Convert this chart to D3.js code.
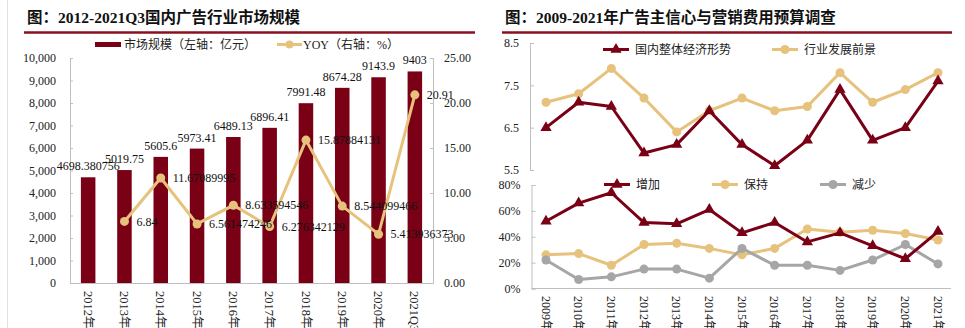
<!DOCTYPE html>
<html>
<head>
<meta charset="utf-8">
<script src="https://cdn.jsdelivr.net/npm/d3@7"></script>
<style>
  body { margin: 0; background: #fff; }
  svg { display: block; font-family: "Liberation Serif", "Noto Sans CJK SC", serif; }
  .axis path, .axis line { stroke: #bfbfbf; }
  .axis text { font-size: 12px; fill: #222; font-family: "Liberation Serif", serif; }
</style>
</head>
<body>
<div id="chart"></div>
<script>
// market size (left) data
var years = ["2012年", "2013年", "2014年", "2015年", "2016年", "2017年", "2018年", "2019年", "2020年", "2021Q3"];
var marketSize = [4698.380756, 5019.75, 5605.6, 5973.41, 6489.13, 6896.41, 7991.48, 8674.28, 9143.9, 9403];
var yoy = [null, 6.84, 11.67089995, 6.561474246, 8.633594546, 6.276342129, 15.87884131, 8.544099466, 5.413936373, 20.91];
var sizeTicks = [0, 1000, 2000, 3000, 4000, 5000, 6000, 7000, 8000, 9000, 10000];
var yoyTicks = [0, 5, 10, 15, 20, 25];

// advertiser survey (right) data
var surveyYears = ["2009年", "2010年", "2011年", "2012年", "2013年", "2014年", "2015年", "2016年", "2017年", "2018年", "2019年", "2020年", "2021年"];
var economy = [6.5, 7.1, 7.0, 5.9, 6.1, 6.9, 6.1, 5.6, 6.2, 7.4, 6.2, 6.5, 7.6];
var outlook = [7.1, 7.3, 7.9, 7.2, 6.4, 6.9, 7.2, 6.9, 7.0, 7.8, 7.1, 7.4, 7.8];
var increase = [52, 66, 74, 51, 50, 61, 43, 51, 36, 43, 33, 23, 44];
var keep = [26, 27, 18, 34, 35, 31, 26, 31, 46, 43.5, 45, 42.5, 37.5];
var decrease = [22, 7, 9, 15, 15, 8, 31, 18, 18, 14, 22, 34, 19];
var confTicks = [5.5, 6.5, 7.5, 8.5];
var pctTicks = [0, 20, 40, 60, 80];

var RED = "#7a0016", TAN = "#e6c27c", GRAY = "#a6a6a6";

var svg = d3.select("#chart").append("svg")
  .attr("width", 965)
  .attr("height", 328);

// page border
svg.append("line").attr("x1", 7.5).attr("x2", 7.5).attr("y1", 0).attr("y2", 328)
  .attr("stroke", "#e2e2e2");

function title(x, x2, text) {
  svg.append("text")
    .attr("x", x).attr("y", 23)
    .attr("font-size", 15.5).attr("font-weight", "bold").attr("fill", "#111")
    .text(text);
  svg.append("line")
    .attr("x1", x - 3).attr("x2", x2).attr("y1", 32.5).attr("y2", 32.5)
    .attr("stroke", "#8a1020").attr("stroke-width", 2.5);
}

title(27, 475, "图：2012-2021Q3国内广告行业市场规模");
title(505, 952, "图：2009-2021年广告主信心与营销费用预算调查");

// ---------- left chart ----------
var left = svg.append("g");

var x = d3.scaleBand().domain(years).range([70, 433]).paddingInner(0.6).paddingOuter(0.3);
var ySize = d3.scaleLinear().domain([0, 10000]).range([283, 58]);
var yYoy = d3.scaleLinear().domain([0, 25]).range([283, 58]);

left.append("g").attr("class", "axis")
  .attr("transform", "translate(70,0)")
  .call(d3.axisLeft(ySize).tickValues(sizeTicks).tickSize(-3).tickPadding(14).tickFormat(d3.format(",")));

left.append("g").attr("class", "axis")
  .attr("transform", "translate(433,0)")
  .call(d3.axisRight(yYoy).tickValues(yoyTicks).tickSize(-3).tickPadding(11).tickFormat(d3.format(".2f")));

left.append("g").attr("class", "axis")
  .attr("transform", "translate(0,283)")
  .call(d3.axisBottom(x).tickSize(0).tickFormat(""));

left.selectAll("rect.bar")
  .data(marketSize)
  .enter().append("rect")
  .attr("class", "bar")
  .attr("x", (d, i) => x(years[i]))
  .attr("y", d => ySize(d))
  .attr("width", x.bandwidth())
  .attr("height", d => ySize(0) - ySize(d))
  .attr("fill", RED);

left.selectAll("text.barLabel")
  .data(marketSize)
  .enter().append("text")
  .attr("class", "barLabel")
  .attr("x", (d, i) => x(years[i]) + x.bandwidth() / 2)
  .attr("y", d => ySize(d) - 7)
  .attr("text-anchor", "middle")
  .attr("font-size", 12)
  .attr("fill", "#111")
  .text(d => d);

var yoyPts = yoy.map((v, i) => ({ v: v, cx: x(years[i]) + x.bandwidth() / 2 })).filter(d => d.v != null);

left.append("path")
  .datum(yoyPts)
  .attr("fill", "none")
  .attr("stroke", TAN)
  .attr("stroke-width", 3)
  .attr("d", d3.line().x(d => d.cx).y(d => yYoy(d.v)));

left.selectAll("circle.yoy")
  .data(yoyPts)
  .enter().append("circle")
  .attr("class", "yoy")
  .attr("cx", d => d.cx)
  .attr("cy", d => yYoy(d.v))
  .attr("r", 4.5)
  .attr("fill", TAN);

left.selectAll("text.yoyLabel")
  .data(yoyPts)
  .enter().append("text")
  .attr("class", "yoyLabel")
  .attr("x", d => d.cx + 12)
  .attr("y", d => yYoy(d.v))
  .attr("dy", "0.35em")
  .attr("font-size", 12)
  .attr("fill", "#111")
  .text(d => d.v);

// rotated year labels
left.selectAll("text.year")
  .data(years)
  .enter().append("text")
  .attr("class", "year")
  .attr("transform", d => `translate(${x(d) + x.bandwidth() / 2},291) rotate(90)`)
  .attr("dy", "0.35em")
  .attr("font-size", 12.5)
  .attr("fill", "#222")
  .text(d => d);

// legend
left.append("rect").attr("x", 95).attr("y", 42).attr("width", 26).attr("height", 5).attr("fill", RED);
left.append("text").attr("x", 124).attr("y", 49).attr("font-size", 12).attr("fill", "#222")
  .text("市场规模（左轴：亿元）");
left.append("line").attr("x1", 277).attr("x2", 302).attr("y1", 44.5).attr("y2", 44.5)
  .attr("stroke", TAN).attr("stroke-width", 3);
left.append("circle").attr("cx", 289.5).attr("cy", 44.5).attr("r", 4).attr("fill", TAN);
left.append("text").attr("x", 303).attr("y", 49).attr("font-size", 12).attr("fill", "#222")
  .text("YOY（右轴：%）");

// ---------- right chart ----------
var right = svg.append("g");

var xs = d3.scalePoint().domain(surveyYears).range([546, 938]);
var yConf = d3.scaleLinear().domain([5.5, 8.5]).range([170, 43]);
var yPct = d3.scaleLinear().domain([0, 80]).range([288.5, 185]);

right.append("g").attr("class", "axis")
  .attr("transform", "translate(530,0)")
  .call(d3.axisLeft(yConf).tickValues(confTicks).tickSize(-4).tickPadding(11).tickFormat(d3.format(".1f")));

right.append("g").attr("class", "axis")
  .attr("transform", "translate(531.5,0)")
  .call(d3.axisLeft(yPct).tickValues(pctTicks).tickSize(-4).tickPadding(11).tickFormat(d => d + "%"));

right.append("line")
  .attr("x1", 531.5).attr("x2", 951).attr("y1", yPct(0)).attr("y2", yPct(0))
  .attr("stroke", "#bfbfbf");

var triangle = d3.symbol().type(d3.symbolTriangle).size(55);

function series(values, yScale, color, marker) {
  right.append("path")
    .datum(values)
    .attr("fill", "none")
    .attr("stroke", color)
    .attr("stroke-width", 3)
    .attr("stroke-linejoin", "round")
    .attr("d", d3.line().x((d, i) => xs(surveyYears[i])).y(d => yScale(d)));

  var pts = right.append("g").selectAll("g")
    .data(values)
    .enter();
  if (marker == "triangle") {
    pts.append("path")
      .attr("d", triangle)
      .attr("transform", (d, i) => `translate(${xs(surveyYears[i])},${yScale(d)})`)
      .attr("fill", color);
  } else {
    pts.append("circle")
      .attr("cx", (d, i) => xs(surveyYears[i]))
      .attr("cy", d => yScale(d))
      .attr("r", 4.5)
      .attr("fill", color);
  }
}

series(outlook, yConf, TAN, "circle");
series(economy, yConf, RED, "triangle");
series(keep, yPct, TAN, "circle");
series(decrease, yPct, GRAY, "circle");
series(increase, yPct, RED, "triangle");

right.selectAll("text.year")
  .data(surveyYears)
  .enter().append("text")
  .attr("class", "year")
  .attr("transform", d => `translate(${xs(d)},296) rotate(90)`)
  .attr("dy", "0.35em")
  .attr("font-size", 12)
  .attr("fill", "#222")
  .text(d => d);

function legendItem(x1, y, color, marker, label) {
  right.append("line").attr("x1", x1).attr("x2", x1 + 26).attr("y1", y).attr("y2", y)
    .attr("stroke", color).attr("stroke-width", 3);
  if (marker == "triangle") {
    right.append("path").attr("d", triangle)
      .attr("transform", `translate(${x1 + 13},${y})`).attr("fill", color);
  } else {
    right.append("circle").attr("cx", x1 + 13).attr("cy", y).attr("r", 4.5).attr("fill", color);
  }
  right.append("text").attr("x", x1 + 32).attr("y", y + 4.5)
    .attr("font-size", 12).attr("fill", "#222").text(label);
}

legendItem(603, 49.5, RED, "triangle", "国内整体经济形势");
legendItem(772, 49.5, TAN, "circle", "行业发展前景");
legendItem(604, 184.5, RED, "triangle", "增加");
legendItem(712, 184.5, TAN, "circle", "保持");
legendItem(820, 184.5, GRAY, "circle", "减少");
</script>
</body>
</html>
